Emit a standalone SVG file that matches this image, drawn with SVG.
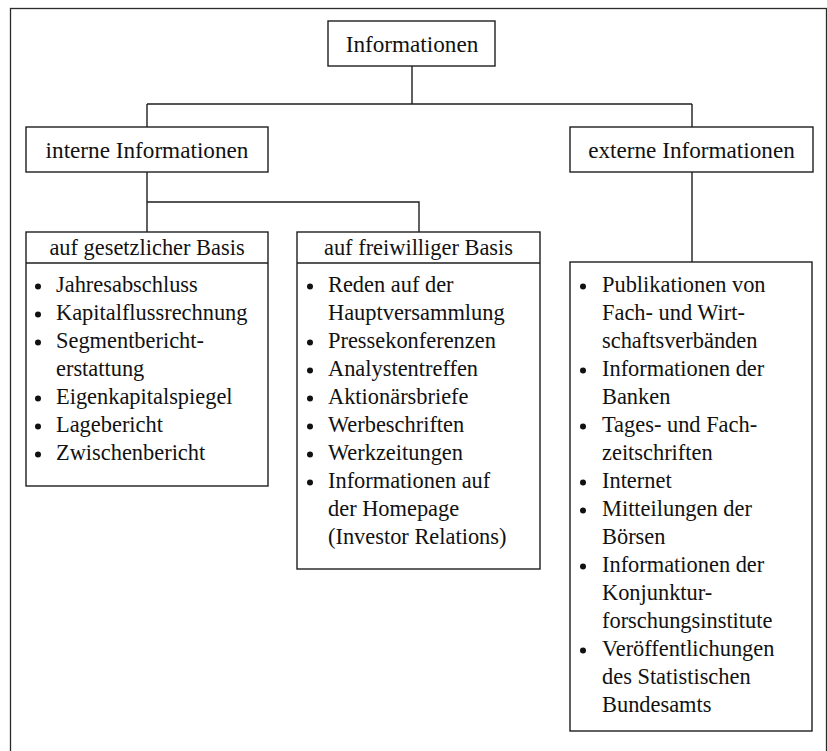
<svg xmlns="http://www.w3.org/2000/svg" width="827" height="751" viewBox="0 0 827 751">
<style>
.box{fill:#fff;stroke:#1e1e1e;stroke-width:1.4}
.ln{fill:none;stroke:#1e1e1e;stroke-width:1.4}
text{font-family:"Liberation Serif","Times New Roman",serif;font-size:22.4px;fill:#111}
.c{text-anchor:middle}
.h{font-size:23.2px}
.b{fill:#111}
</style>
<rect x="0" y="0" width="827" height="751" fill="#fff"/>
<rect x="10.5" y="8.5" width="816" height="800" fill="none" stroke="#2a2a2a" stroke-width="1.3"/>
<g id="connectors">
<path class="ln" d="M412,66 V104 M147,104 H692 M147,104 V127 M692,104 V127"/>
<path class="ln" d="M147,172 V202 H419 V232 M147,202 V232"/>
<path class="ln" d="M692,172 V262"/>
</g>
<g id="informationen">
<rect class="box" x="328" y="21" width="167" height="45"/>
<text class="c h" x="412" y="52">Informationen</text>
</g>
<g id="interne">
<rect class="box" x="26" y="127" width="242" height="45"/>
<text class="c h" x="147" y="158">interne Informationen</text>
</g>
<g id="externe">
<rect class="box" x="570" y="127" width="243" height="45"/>
<text class="c h" x="691.5" y="158">externe Informationen</text>
</g>
<g id="gesetzlich">
<rect class="box" x="26" y="232" width="242" height="254"/>
<line class="ln" x1="26" y1="263" x2="268" y2="263"/>
<text class="c" x="147" y="255">auf gesetzlicher Basis</text>
<circle class="b" cx="38" cy="286.5" r="3"/><text x="56" y="292">Jahresabschluss</text>
<circle class="b" cx="38" cy="314.5" r="3"/><text x="56" y="320">Kapitalflussrechnung</text>
<circle class="b" cx="38" cy="342.5" r="3"/><text x="56" y="348">Segmentbericht-</text>
<text x="56" y="376">erstattung</text>
<circle class="b" cx="38" cy="398.5" r="3"/><text x="56" y="404">Eigenkapitalspiegel</text>
<circle class="b" cx="38" cy="426.5" r="3"/><text x="56" y="432">Lagebericht</text>
<circle class="b" cx="38" cy="454.5" r="3"/><text x="56" y="460">Zwischenbericht</text>
</g>
<g id="freiwillig">
<rect class="box" x="297" y="232" width="243" height="337"/>
<line class="ln" x1="297" y1="263" x2="540" y2="263"/>
<text class="c" x="418.5" y="255">auf freiwilliger Basis</text>
<circle class="b" cx="310" cy="286.5" r="3"/><text x="328" y="292">Reden auf der</text>
<text x="328" y="320">Hauptversammlung</text>
<circle class="b" cx="310" cy="342.5" r="3"/><text x="328" y="348">Pressekonferenzen</text>
<circle class="b" cx="310" cy="370.5" r="3"/><text x="328" y="376">Analystentreffen</text>
<circle class="b" cx="310" cy="398.5" r="3"/><text x="328" y="404">Aktionärsbriefe</text>
<circle class="b" cx="310" cy="426.5" r="3"/><text x="328" y="432">Werbeschriften</text>
<circle class="b" cx="310" cy="454.5" r="3"/><text x="328" y="460">Werkzeitungen</text>
<circle class="b" cx="310" cy="482.5" r="3"/><text x="328" y="488">Informationen auf</text>
<text x="328" y="516">der Homepage</text>
<text x="328" y="544">(Investor Relations)</text>
</g>
<g id="externe-liste">
<rect class="box" x="570" y="262" width="242" height="469"/>
<circle class="b" cx="583" cy="286.5" r="3"/><text x="602" y="292">Publikationen von</text>
<text x="602" y="320">Fach- und Wirt-</text>
<text x="602" y="348">schaftsverbänden</text>
<circle class="b" cx="583" cy="370.5" r="3"/><text x="602" y="376">Informationen der</text>
<text x="602" y="404">Banken</text>
<circle class="b" cx="583" cy="426.5" r="3"/><text x="602" y="432">Tages- und Fach-</text>
<text x="602" y="460">zeitschriften</text>
<circle class="b" cx="583" cy="482.5" r="3"/><text x="602" y="488">Internet</text>
<circle class="b" cx="583" cy="510.5" r="3"/><text x="602" y="516">Mitteilungen der</text>
<text x="602" y="544">Börsen</text>
<circle class="b" cx="583" cy="566.5" r="3"/><text x="602" y="572">Informationen der</text>
<text x="602" y="600">Konjunktur-</text>
<text x="602" y="628">forschungsinstitute</text>
<circle class="b" cx="583" cy="650.5" r="3"/><text x="602" y="656">Veröffentlichungen</text>
<text x="602" y="684">des Statistischen</text>
<text x="602" y="712">Bundesamts</text>
</g>
</svg>
